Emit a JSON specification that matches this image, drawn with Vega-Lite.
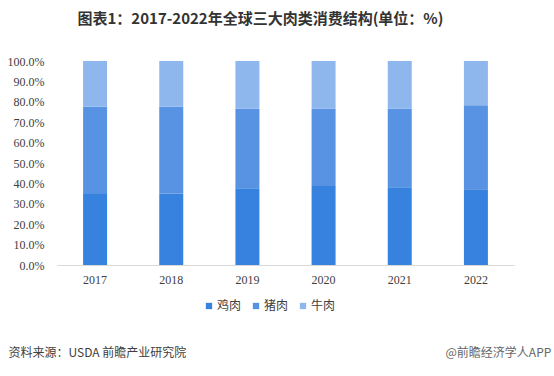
{
  "$schema": "https://vega.github.io/schema/vega-lite/v6.json",
  "autosize": {"type": "none"},
  "width": 457,
  "height": 204,
  "padding": {"left": 57, "top": 61, "right": 40, "bottom": 111},
  "background": "white",
  "title": {
    "text": "图表1：2017-2022年全球三大肉类消费结构(单位：%)",
    "font": "Noto Sans CJK SC",
    "fontSize": 15,
    "fontWeight": "bold",
    "color": "#333333",
    "anchor": "middle",
    "frame": "group",
    "dx": -25,
    "offset": 28
  },
  "data": {
    "values": [
      {"year": "2017", "meat": "鸡肉", "share": 0.348},
      {"year": "2017", "meat": "猪肉", "share": 0.428},
      {"year": "2017", "meat": "牛肉", "share": 0.224},
      {"year": "2018", "meat": "鸡肉", "share": 0.351},
      {"year": "2018", "meat": "猪肉", "share": 0.425},
      {"year": "2018", "meat": "牛肉", "share": 0.224},
      {"year": "2019", "meat": "鸡肉", "share": 0.376},
      {"year": "2019", "meat": "猪肉", "share": 0.390},
      {"year": "2019", "meat": "牛肉", "share": 0.234},
      {"year": "2020", "meat": "鸡肉", "share": 0.387},
      {"year": "2020", "meat": "猪肉", "share": 0.379},
      {"year": "2020", "meat": "牛肉", "share": 0.234},
      {"year": "2021", "meat": "鸡肉", "share": 0.381},
      {"year": "2021", "meat": "猪肉", "share": 0.385},
      {"year": "2021", "meat": "牛肉", "share": 0.234},
      {"year": "2022", "meat": "鸡肉", "share": 0.371},
      {"year": "2022", "meat": "猪肉", "share": 0.412},
      {"year": "2022", "meat": "牛肉", "share": 0.217}
    ]
  },
  "mark": {"type": "bar"},
  "encoding": {
    "x": {
      "field": "year",
      "type": "ordinal",
      "scale": {"paddingInner": 0.685, "paddingOuter": 0.3425},
      "axis": {
        "title": "资料来源：USDA 前瞻产业研究院",
        "titleFont": "Noto Sans CJK SC",
        "titleFontSize": 12,
        "titleFontWeight": "normal",
        "titleColor": "#404040",
        "titleAnchor": "start",
        "titleAlign": "left",
        "titleBaseline": "middle",
        "titleX": -49,
        "titleY": 87,
        "labelAngle": 0,
        "labelFont": "Liberation Serif",
        "labelFontSize": 12,
        "labelColor": "#404040",
        "labelPadding": 9,
        "ticks": false,
        "domainColor": "#d9d9d9",
        "domainWidth": 1,
        "grid": false
      }
    },
    "y": {
      "field": "share",
      "type": "quantitative",
      "stack": "zero",
      "scale": {"domain": [0, 1], "nice": false},
      "axis": {
        "values": [0, 0.1, 0.2, 0.3, 0.4, 0.5, 0.6, 0.7, 0.8, 0.9, 1.0],
        "format": ".1%",
        "title": "@前瞻经济学人APP",
        "titleFont": "Noto Sans CJK SC",
        "titleFontSize": 12,
        "titleFontWeight": "normal",
        "titleColor": "#666666",
        "titleAngle": 0,
        "titleAlign": "left",
        "titleBaseline": "middle",
        "titleX": 388,
        "titleY": 291,
        "labelFont": "Liberation Serif",
        "labelFontSize": 12,
        "labelColor": "#404040",
        "labelPadding": 13,
        "ticks": false,
        "domain": false,
        "grid": false
      }
    },
    "color": {
      "field": "meat",
      "type": "nominal",
      "scale": {"domain": ["鸡肉", "猪肉", "牛肉"], "range": ["#3781df", "#5793e2", "#8eb7ee"]},
      "legend": {
        "title": null,
        "orient": "none",
        "direction": "horizontal",
        "legendX": 146,
        "legendY": 239,
        "symbolType": "square",
        "symbolSize": 40,
        "labelFont": "Noto Sans CJK SC",
        "labelFontSize": 12,
        "labelColor": "#404040",
        "labelOffset": 2,
        "columnPadding": 8
      }
    },
    "order": {"field": "meat", "sort": "descending"}
  },
  "config": {"view": {"stroke": null}}
}
